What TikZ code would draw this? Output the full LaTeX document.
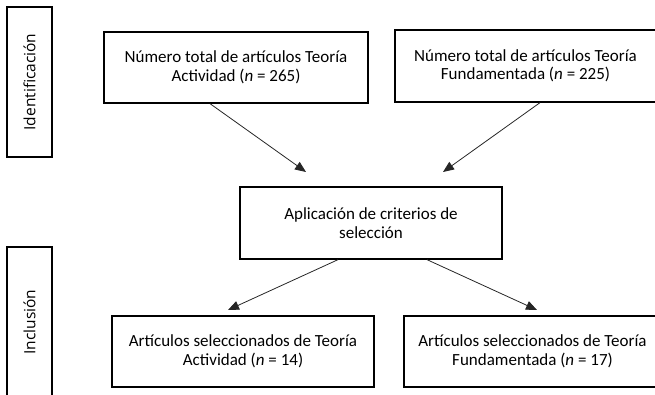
\documentclass[tikz,border=0pt]{standalone}
\usepackage{fontspec}
\setmainfont{Carlito}
\newfontfamily\stagefont{Open Sans}
\usepackage{tikz}
\usetikzlibrary{calc, arrows.meta, positioning}

\begin{document}
\begin{tikzpicture}
[
    x = 1pt, y = -1pt,
    every node/.style = {align=center, font=\fontsize{17}{18.5}\selectfont},
    ArrowStyle/.style = {-{Triangle[length=11pt, width=9pt]}, line width=0.8pt, black!85}
  ]

  \tikzset{BoxStyle/.style = {draw,
                              line width   = 1.3pt,
                              inner sep    = 2pt,
                              minimum height = 71pt},
           StageStyle/.style = {draw,
                              rotate       = 90,
                              line width   = 1.3pt,
                              font         = \stagefont\fontsize{15.5}{18}\selectfont,
                              minimum width  = 150pt,
                              minimum height = 45pt}}

  \useasboundingbox (0,0) rectangle (655,394);

  % stages at the left
  \node[StageStyle](l1) at (29.5,82){Identificación};
  \node[StageStyle](l2) at (29.5,322){Inclusión};

  % boxes
  \node[BoxStyle, minimum width=264pt](11) at (236,67.5)
    {Número total de artículos Teoría\\Actividad (\textit{n} = 265)};
  \node[BoxStyle, minimum width=261pt, minimum height=72pt](12) at (525.5,66)
    {Número total de artículos Teoría\\Fundamentada (\textit{n} = 225)};
  \node[BoxStyle, minimum width=262pt, minimum height=72pt](21) at (371,223)
    {Aplicación de criterios de\\selección};
  \node[BoxStyle, minimum width=262pt](31) at (243,351.5)
    {Artículos seleccionados de Teoría\\Actividad (\textit{n} = 14)};
  \node[BoxStyle, minimum width=257pt](32) at (532.5,351.5)
    {Artículos seleccionados de Teoría\\Fundamentada (\textit{n} = 17)};

  % arrow tips
  \coordinate (t11) at (306,172);
  \coordinate (t12) at (443,172);
  \coordinate (t31) at (228,310);
  \coordinate (t32) at (537,310);

  \draw[ArrowStyle]([xshift=-26pt]11.south) to (t11);
  \draw[ArrowStyle]([xshift=14.5pt]12.south) to (t12);
  \draw[ArrowStyle]([xshift=-33pt]21.south) to (t31);
  \draw[ArrowStyle]([xshift=56pt]21.south) to (t32);
\end{tikzpicture}
\end{document}
